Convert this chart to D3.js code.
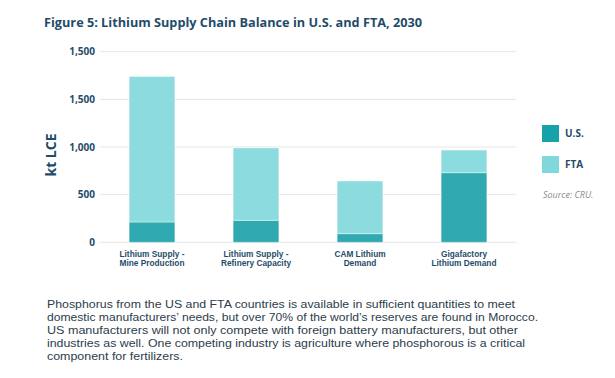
<!DOCTYPE html>
<html>
<head>
<meta charset="utf-8">
<script src="https://cdn.jsdelivr.net/npm/d3@7"></script>
<style>
  body { margin: 0; background: #fff; }
  svg { display: block; }
</style>
</head>
<body>
<svg id="chart" width="615" height="378"></svg>
<script>
// Chart data
const categories = [
    ["Lithium Supply -", "Mine Production"],
    ["Lithium Supply -", "Refinery Capacity"],
    ["CAM Lithium", "Demand"],
    ["Gigafactory", "Lithium Demand"]
];
const usValues = [213, 231, 90, 730];
const ftaValues = [1527, 759, 553, 238];
const seriesNames = ["U.S.", "FTA"];
const tickValues = [0, 500, 1000, 1500, 2000];
const tickLabels = ["0", "500", "1,000", "1,500", "1,500"];
const titleText = "Figure 5: Lithium Supply Chain Balance in U.S. and FTA, 2030";
const paragraphLines = [
    "Phosphorus from the US and FTA countries is available in sufficient quantities to meet",
    "domestic manufacturers\u2019 needs, but over 70% of the world\u2019s reserves are found in Morocco.",
    "US manufacturers will not only compete with foreign battery manufacturers, but other",
    "industries as well. One competing industry is agriculture where phosphorous is a critical",
    "component for fertilizers."
];
const paragraphWidths = [468, 491, 471, 478, 136];

const svg = d3.select("#chart");
const navy = "#1f4c6a";
const font = "'Open Sans', 'DejaVu Sans', sans-serif";
// tighter metrics for the stacked multi-line texts
const tightFont = "'Liberation Sans', Arial, sans-serif";

// Title
svg.append("text")
    .attr("x", 44)
    .attr("y", 27)
    .attr("font-family", font)
    .attr("font-weight", 700)
    .attr("font-size", 12.5)
    .attr("fill", navy)
    .attr("textLength", 378)
    .attr("lengthAdjust", "spacingAndGlyphs")
    .text(titleText);

// Scales
const rows = categories.map((c, i) => ({ key: i, "U.S.": usValues[i], "FTA": ftaValues[i] }));
const x = d3.scaleBand()
    .domain(d3.range(categories.length))
    .range([100, 516])
    .paddingInner(0.56)
    .paddingOuter(0.28);
const y = d3.scaleLinear()
    .domain([0, 2000])
    .range([242.3, 51.7]);

// Gridlines and y tick labels
const grid = svg.append("g");
grid.selectAll("line")
    .data(tickValues)
    .join("line")
        .attr("x1", 100)
        .attr("x2", 516)
        .attr("y1", d => y(d))
        .attr("y2", d => y(d))
        .attr("stroke", "#e6e6e6")
        .attr("stroke-width", 1);
grid.selectAll("text")
    .data(tickValues)
    .join("text")
        .attr("x", 95)
        .attr("y", d => y(d))
        .attr("dy", "0.35em")
        .attr("text-anchor", "end")
        .attr("font-family", font)
        .attr("font-weight", 700)
        .attr("font-size", 10)
        .attr("fill", navy)
        .text((d, i) => tickLabels[i]);

// Y axis title
svg.append("text")
    .attr("transform", "translate(56,155) rotate(-90)")
    .attr("text-anchor", "middle")
    .attr("font-family", font)
    .attr("font-weight", 700)
    .attr("font-size", 14)
    .attr("fill", navy)
    .text("kt LCE");

// Stacked bars
const barColors = { "U.S.": "#31a9b1", "FTA": "#8bdbdf" };
const stacked = d3.stack().keys(seriesNames)(rows);
svg.append("g")
    .selectAll("g")
    .data(stacked)
    .join("g")
        .attr("fill", d => barColors[d.key])
    .selectAll("rect")
    .data(d => d)
    .join("rect")
        .attr("x", d => x(d.data.key))
        .attr("width", x.bandwidth())
        .attr("y", d => y(d[1]))
        .attr("height", d => y(d[0]) - y(d[1]))
        .attr("stroke", "#ffffff")
        .attr("stroke-opacity", 0.5)
        .attr("stroke-width", 0.8);

// Category labels (two lines each)
const catLabels = svg.append("g")
    .selectAll("text")
    .data(categories)
    .join("text")
        .attr("x", (d, i) => x(i) + x.bandwidth() / 2)
        .attr("y", 256.5)
        .attr("text-anchor", "middle")
        .attr("font-family", tightFont)
        .attr("font-weight", 700)
        .attr("font-size", 8.3)
        .attr("fill", navy);
catLabels.selectAll("tspan")
    .data(d => d)
    .join("tspan")
        .attr("x", function () { return d3.select(this.parentNode).attr("x"); })
        .attr("dy", (d, i) => i === 0 ? 0 : 9.4)
        .text(d => d);

// Legend
const legendColors = { "U.S.": "#17a1a8", "FTA": "#80d8db" };
const legend = svg.append("g")
    .selectAll("g")
    .data(seriesNames)
    .join("g")
        .attr("transform", (d, i) => `translate(542,${125 + i * 31})`);
legend.append("rect")
    .attr("width", 17)
    .attr("height", 17)
    .attr("fill", d => legendColors[d]);
legend.append("text")
    .attr("x", 23)
    .attr("y", 8.5)
    .attr("dy", "0.35em")
    .attr("font-family", font)
    .attr("font-weight", 700)
    .attr("font-size", 10)
    .attr("fill", navy)
    .text(d => d);

svg.append("text")
    .attr("x", 543)
    .attr("y", 198)
    .attr("font-family", font)
    .attr("font-style", "italic")
    .attr("font-size", 9)
    .attr("fill", "#8a8a8a")
    .text("Source: CRU.");

// Paragraph below the chart
svg.append("g")
    .selectAll("text")
    .data(paragraphLines)
    .join("text")
        .attr("x", 47)
        .attr("y", (d, i) => 308.3 + i * 12.8)
        .attr("font-family", tightFont)
        .attr("font-size", 11.3)
        .attr("fill", "#2d3c4c")
        .attr("textLength", (d, i) => paragraphWidths[i])
        .attr("lengthAdjust", "spacingAndGlyphs")
        .text(d => d);
</script>
</body>
</html>
